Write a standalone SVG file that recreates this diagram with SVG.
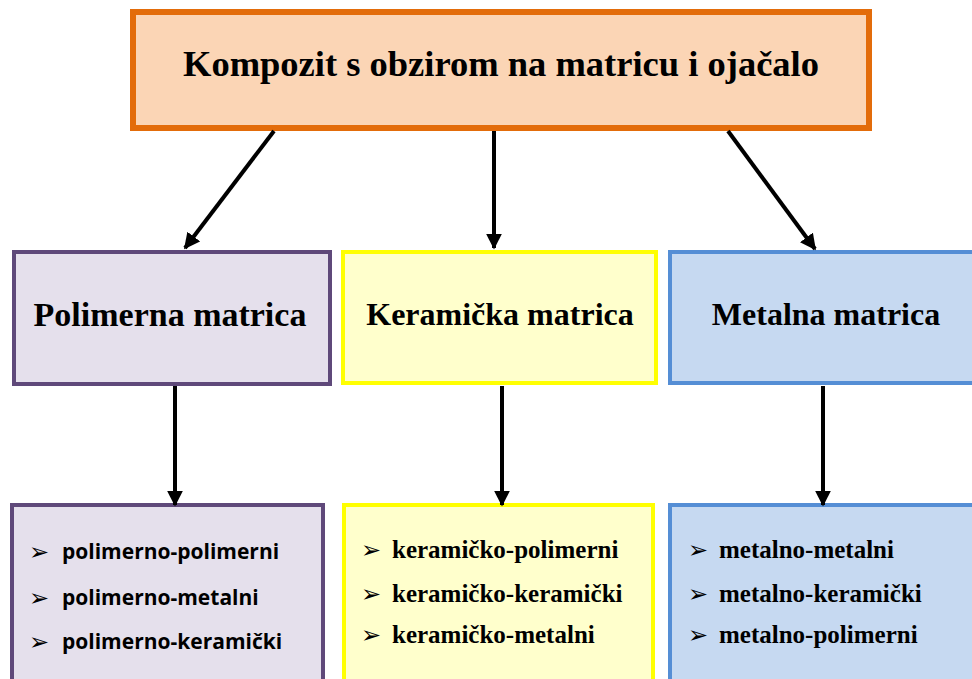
<svg xmlns="http://www.w3.org/2000/svg" width="972" height="679" viewBox="0 0 972 679">
<style>
.serif{font-family:"Liberation Serif","Times New Roman",serif;font-weight:bold;fill:#000}
.sans{font-family:"Open Sans","Noto Sans","Liberation Sans",sans-serif;font-weight:bold;fill:#000}
.bul{font-family:"DejaVu Sans",sans-serif;fill:#000}
.con{stroke:#000;stroke-width:4;fill:none;marker-end:url(#ah)}
</style>
<defs>
<marker id="ah" viewBox="0 0 10 10" refX="9" refY="5" markerWidth="4" markerHeight="4" orient="auto" markerUnits="strokeWidth">
<path d="M0,0 L10,5 L0,10 z" fill="#000"/>
</marker>
</defs>
<rect width="972" height="679" fill="#fff"/>
<g id="top">
<rect x="133" y="12" width="736" height="116" fill="#FBD5B5" stroke="#E36C0A" stroke-width="6"/>
<text class="serif" x="501" y="76" font-size="36.5" text-anchor="middle">Kompozit s obzirom na matricu i ojačalo</text>
</g>
<g id="polimerna">
<rect x="14" y="252" width="316" height="132" fill="#E5E0EC" stroke="#5F497A" stroke-width="4"/>
<text class="serif" x="170" y="326" font-size="34" text-anchor="middle">Polimerna matrica</text>
</g>
<g id="keramicka">
<rect x="343" y="252" width="313" height="131" fill="#FFFFCC" stroke="#FFFF00" stroke-width="4"/>
<text class="serif" x="500" y="325" font-size="32" text-anchor="middle">Keramička matrica</text>
</g>
<g id="metalna">
<rect x="670" y="252" width="310" height="131" fill="#C6D9F1" stroke="#558ED5" stroke-width="4"/>
<text class="serif" x="826" y="325" font-size="32" text-anchor="middle">Metalna matrica</text>
</g>
<g id="polimerna-list">
<rect x="12" y="505" width="311" height="190" fill="#E5E0EC" stroke="#5F497A" stroke-width="4"/>
<text class="bul" x="29" y="560" font-size="24">➢</text>
<text class="bul" x="29" y="606" font-size="24">➢</text>
<text class="bul" x="29" y="650" font-size="24">➢</text>
<text class="sans" x="62" y="559" font-size="21">polimerno-polimerni</text>
<text class="sans" x="62" y="605" font-size="21">polimerno-metalni</text>
<text class="sans" x="62" y="649" font-size="21">polimerno-keramički</text>
</g>
<g id="keramicka-list">
<rect x="344" y="505" width="309" height="190" fill="#FFFFCC" stroke="#FFFF00" stroke-width="4"/>
<text class="bul" x="361" y="558" font-size="24">➢</text>
<text class="bul" x="361" y="602" font-size="24">➢</text>
<text class="bul" x="361" y="643" font-size="24">➢</text>
<text class="serif" x="392" y="558" font-size="25">keramičko-polimerni</text>
<text class="serif" x="392" y="602" font-size="25">keramičko-keramički</text>
<text class="serif" x="392" y="643" font-size="25">keramičko-metalni</text>
</g>
<g id="metalna-list">
<rect x="670" y="505" width="310" height="190" fill="#C6D9F1" stroke="#558ED5" stroke-width="4"/>
<text class="bul" x="688" y="558" font-size="24">➢</text>
<text class="bul" x="688" y="602" font-size="24">➢</text>
<text class="bul" x="688" y="643" font-size="24">➢</text>
<text class="serif" x="719" y="558" font-size="25">metalno-metalni</text>
<text class="serif" x="719" y="602" font-size="25">metalno-keramički</text>
<text class="serif" x="719" y="643" font-size="25">metalno-polimerni</text>
</g>
<g id="connectors">
<line class="con" x1="274" y1="131" x2="185" y2="248"/>
<line class="con" x1="494" y1="131" x2="494" y2="248"/>
<line class="con" x1="728" y1="131" x2="815" y2="249"/>
<line class="con" x1="175" y1="386" x2="175" y2="505"/>
<line class="con" x1="502" y1="386" x2="502" y2="505"/>
<line class="con" x1="823" y1="386" x2="823" y2="505"/>
</g>
</svg>
